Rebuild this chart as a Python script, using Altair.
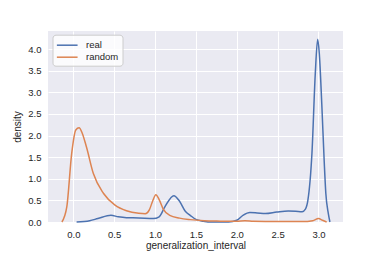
import altair as alt
import pandas as pd

real_x = [0.04, 0.2, 0.3, 0.46, 0.55, 0.65, 0.8, 0.98, 1.05, 1.12, 1.23, 1.3, 1.37, 1.43, 1.5, 1.59, 1.7, 1.9,
          2.0, 2.08, 2.16, 2.25, 2.35, 2.49, 2.63, 2.72, 2.80, 2.84, 2.87, 2.92, 2.96, 2.99, 3.01, 3.04, 3.07,
          3.09, 3.12, 3.14]
real_y = [0.0, 0.03, 0.08, 0.155, 0.12, 0.10, 0.095, 0.08, 0.12, 0.35, 0.61, 0.48, 0.25, 0.155, 0.06, 0.02, 0.0, 0.0,
          0.04, 0.16, 0.22, 0.21, 0.195, 0.23, 0.255, 0.25, 0.24, 0.3, 0.5, 1.59, 3.4, 4.23, 3.9, 2.75, 1.4,
          0.66, 0.2, 0.0]

random_x = [-0.14, -0.08, -0.02, 0.03, 0.07, 0.11, 0.16, 0.245, 0.37, 0.51, 0.65, 0.8, 0.88, 0.93, 0.97, 1.01, 1.05,
            1.1, 1.18, 1.3, 1.43, 1.6, 1.8, 2.0, 2.1, 2.2, 2.5, 2.8, 2.93, 3.0, 3.05, 3.1]
random_y = [0.0, 0.35, 1.59, 2.13, 2.18, 2.05, 1.74, 1.12, 0.66, 0.39, 0.26, 0.2, 0.19, 0.28, 0.48, 0.63, 0.52,
            0.3, 0.155, 0.09, 0.055, 0.03, 0.02, 0.015, 0.03, 0.02, 0.01, 0.01, 0.03, 0.08, 0.04, 0.0]

series = ["real", "random"]
colors = ["#4C72B0", "#DD8452"]

df = pd.concat([
    pd.DataFrame({"x": real_x, "y": real_y, "s": "real", "o": range(len(real_x))}),
    pd.DataFrame({"x": random_x, "y": random_y, "s": "random", "o": range(len(random_x))}),
])

font = "Liberation Sans"

chart = alt.Chart(df).mark_line(interpolate="monotone", strokeWidth=1.5).encode(
    x=alt.X("x:Q", title="generalization_interval",
            scale=alt.Scale(domain=[-0.31, 3.30], nice=False, zero=False),
            axis=alt.Axis(values=[0, 0.5, 1.0, 1.5, 2.0, 2.5, 3.0], format=".1f")),
    y=alt.Y("y:Q", title="density",
            scale=alt.Scale(domain=[0, 4.42], nice=False),
            axis=alt.Axis(values=[0, 0.5, 1.0, 1.5, 2.0, 2.5, 3.0, 3.5, 4.0], format=".1f")),
    color=alt.Color("s:N", sort=series,
                    scale=alt.Scale(domain=series, range=colors),
                    legend=alt.Legend(title=None, orient="none", legendX=4.5, legendY=3.7,
                                      symbolType="M-1,0H2.38", symbolStrokeWidth=1.5, symbolSize=150,
                                      fillColor="rgba(255,255,255,0.8)", strokeColor="#cccccc",
                                      cornerRadius=3, padding=3.5, rowPadding=0, labelOffset=16,
                                      labelFontSize=9.5, labelFont=font, labelColor="#262626")),
    order="o:Q",
).properties(
    width=295, height=191,
    autosize=alt.AutoSizeParams(type="none"),
    padding={"left": 40, "top": 23, "right": 31, "bottom": 30},
).configure_view(
    fill="#EAEAF2", stroke=None
).configure_axis(
    grid=True, gridColor="white", gridWidth=1, domain=False, ticks=False, tickSize=0,
    labelFont=font, labelFontSize=9.5, labelColor="#262626", labelPadding=7,
    titleFont=font, titleFontSize=10, titleFontWeight="normal", titleColor="#262626",
).configure_axisX(titlePadding=2).configure_axisY(titlePadding=5)

chart.save("out.html", embed_options={"renderer": "svg", "actions": False})
